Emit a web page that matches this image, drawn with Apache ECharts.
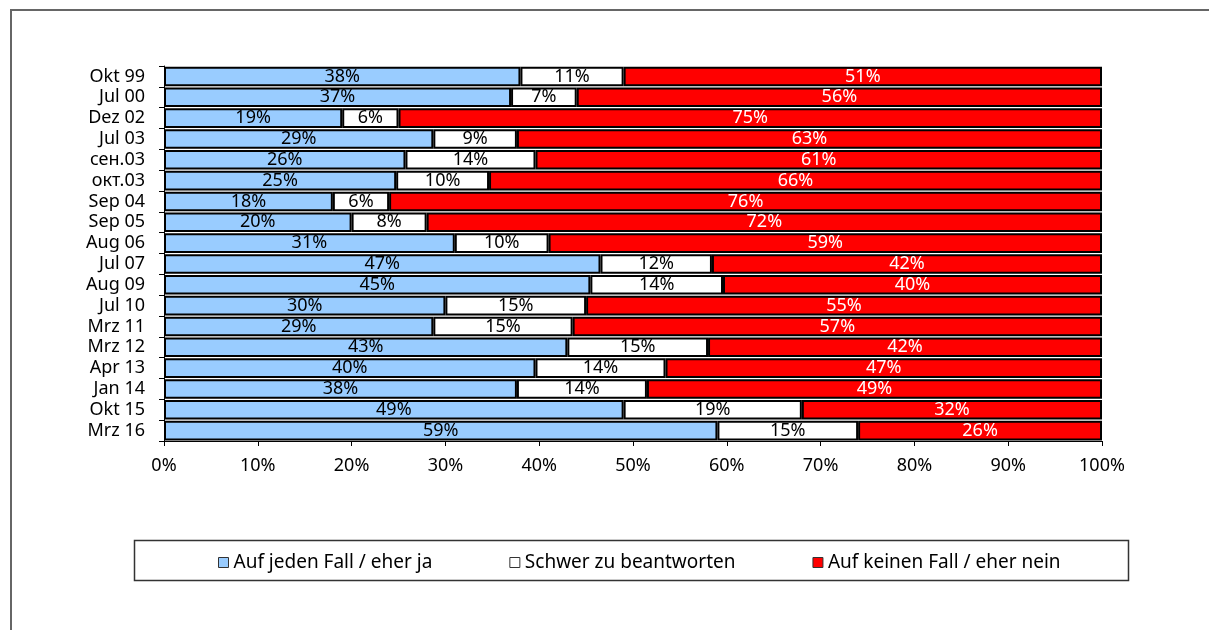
<!DOCTYPE html>
<html>
<head>
<meta charset="utf-8">
<script src="https://cdn.jsdelivr.net/npm/echarts@6/dist/echarts.min.js"></script>
<style>
  html, body { margin: 0; padding: 0; background: #fff; }
  #chart { width: 1209px; height: 630px; }
</style>
</head>
<body>
<div id="chart"></div>
<script>
// Umfragezeitpunkte (von oben nach unten)
const categories = [
  "Okt 99", "Jul 00", "Dez 02", "Jul 03", "сен.03", "окт.03", "Sep 04", "Sep 05", "Aug 06",
  "Jul 07", "Aug 09", "Jul 10", "Mrz 11", "Mrz 12", "Apr 13", "Jan 14", "Okt 15", "Mrz 16"
];

// Antworten in Prozent
const yesValues = [38, 37, 19, 29, 26, 25, 18, 20, 31, 47, 45, 30, 29, 43, 40, 38, 49, 59];
const hardValues = [11, 7, 6, 9, 14, 10, 6, 8, 10, 12, 14, 15, 15, 15, 14, 14, 19, 15];
const noValues = [51, 56, 75, 63, 61, 66, 76, 72, 59, 42, 40, 55, 57, 42, 47, 49, 32, 26];

const seriesNames = ["Auf jeden Fall / eher ja", "Schwer zu beantworten", "Auf keinen Fall / eher nein"];
const xTicks = [0, 10, 20, 30, 40, 50, 60, 70, 80, 90, 100];

const FONT = "Noto Sans";

// 100%-gestapelt: jede Zeile auf ihre Summe normieren (wie in Excel)
const rowSums = categories.map((_, i) => yesValues[i] + hardValues[i] + noValues[i]);
const share = (arr) => arr.map((v, i) => (v / rowSums[i]) * 100);

const makeSeries = (name, values, color, labelColor) => ({
  name: name,
  type: "bar",
  stack: "total",
  barCategoryGap: "6%",
  data: share(values),
  itemStyle: {
    color: color,
    borderColor: "#000",
    borderWidth: 2,
  },
  label: {
    show: true,
    position: "inside",
    color: labelColor,
    fontFamily: FONT,
    fontSize: 18,
    formatter: (p) => values[p.dataIndex] + "%",
  },
  emphasis: { disabled: true },
});

const chart = echarts.init(document.getElementById("chart"));
chart.setOption({
  animation: false,
  backgroundColor: "#fff",
  grid: {
    left: 164,
    right: 107,
    top: 66,
    bottom: 189,
  },
  xAxis: {
    type: "value",
    min: 0,
    max: 100,
    interval: 10,
    axisLine: { show: true, lineStyle: { color: "#000", width: 1 } },
    axisTick: { show: true, length: 5, lineStyle: { color: "#000" } },
    splitLine: { show: false },
    axisLabel: {
      margin: 16,
      color: "#000",
      fontFamily: FONT,
      fontSize: 18,
      formatter: (v) => (xTicks.includes(v) ? v + "%" : ""),
    },
  },
  yAxis: {
    type: "category",
    inverse: true,
    data: categories,
    axisLine: { show: true, lineStyle: { color: "#000", width: 1 } },
    axisTick: { show: true, length: 5, lineStyle: { color: "#000" } },
    axisLabel: {
      interval: 0,
      margin: 19,
      color: "#000",
      fontFamily: FONT,
      fontSize: 18,
    },
  },
  legend: {
    data: seriesNames,
    left: 213,
    top: 548,
    icon: "rect",
    itemWidth: 10,
    itemHeight: 10,
    itemGap: 77,
    itemStyle: { borderWidth: 1, borderColor: "#333" },
    textStyle: { color: "#000", fontFamily: FONT, fontSize: 19 },
    selectedMode: false,
  },
  graphic: [
    // Rahmen links und oben
    {
      type: "polyline",
      shape: { points: [[11, 630], [11, 10], [1209, 10]] },
      style: { stroke: "#666", lineWidth: 2, fill: null },
    },
    // Legendenrahmen
    {
      type: "rect",
      shape: { x: 134.5, y: 540.5, width: 994, height: 40 },
      style: { stroke: "#333", lineWidth: 1.5, fill: null },
      z: -1,
    },
  ],
  series: [
    makeSeries(seriesNames[0], yesValues, "#99ccff", "#000"),
    makeSeries(seriesNames[1], hardValues, "#ffffff", "#000"),
    makeSeries(seriesNames[2], noValues, "#ff0000", "#fff"),
  ],
});
</script>
</body>
</html>
